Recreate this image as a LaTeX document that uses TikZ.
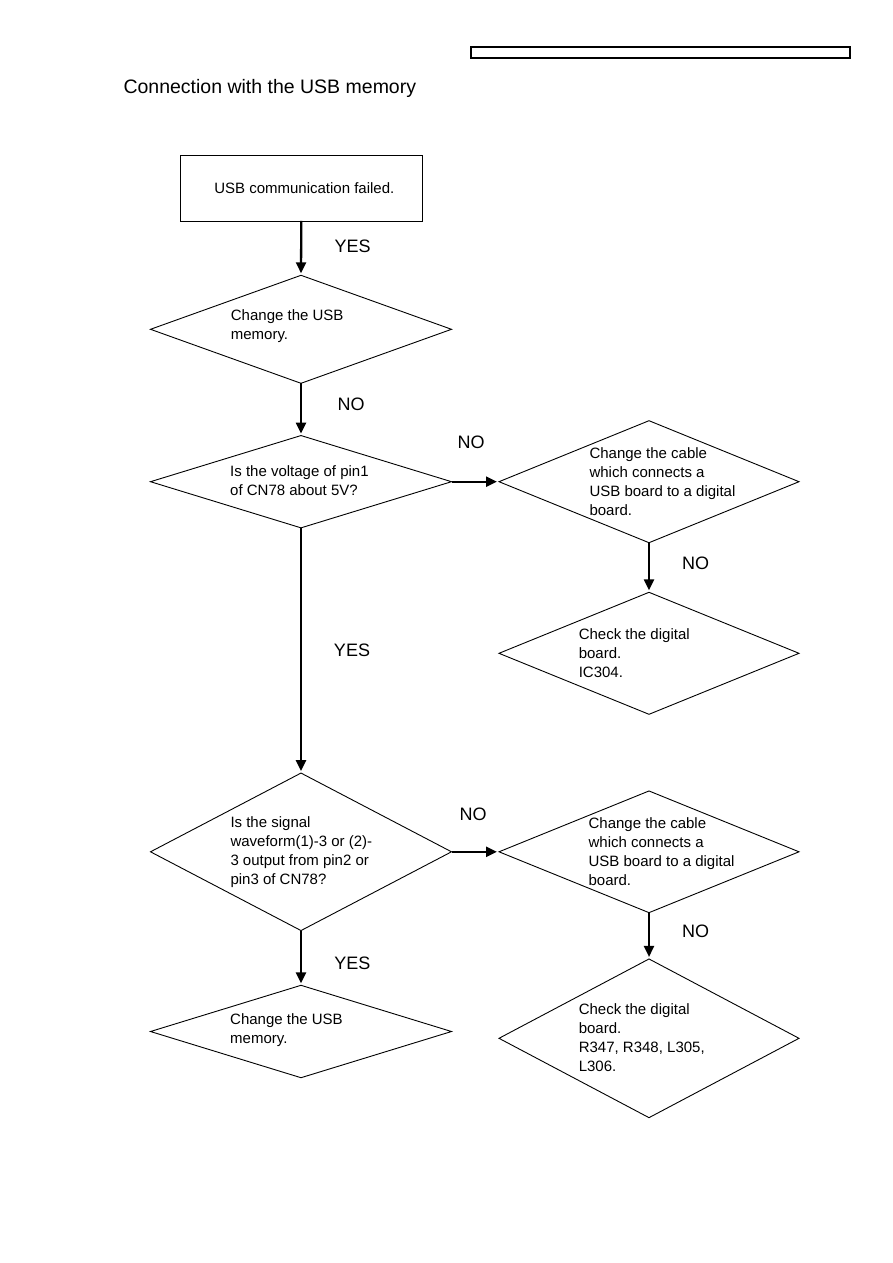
\documentclass[tikz,border=0pt]{standalone}
\usepackage{fontspec}
\setmainfont{Liberation Sans}
\usetikzlibrary{shapes.geometric,arrows.meta}
\begin{document}
\begin{tikzpicture}[x=1pt,y=-1pt,
  dia/.style={draw, diamond, line width=0.9pt, inner sep=0pt, outer sep=0pt},
  procbox/.style={draw, rectangle, line width=0.9pt, inner sep=0pt, outer sep=0pt, font=\fontsize{15}{19}\selectfont},
  txt/.style={anchor=west, align=left, inner sep=0pt, font=\fontsize{15}{19}\selectfont},
  lbl/.style={inner sep=0pt, font=\fontsize{18}{22}\selectfont},
  flow/.style={line width=2.3pt, -{Triangle[length=11pt,width=10pt]}, shorten >=2pt}
]
\useasboundingbox (0,0) rectangle (893,1263);
\node[draw, line width=1.2pt, minimum width=379pt, minimum height=11pt, inner sep=0pt] (hdr) at (660.5,52.5) {};
\node[anchor=west, inner sep=0pt, font=\fontsize{19.5}{23}\selectfont] (title) at (123.3,88.5) {Connection with the USB memory};

% shapes
\node[procbox, minimum width=242.7pt, minimum height=65.3pt] (start) at (301.3,188.3) {\hspace*{6pt}USB communication failed.};
\node[dia, minimum width=301pt, minimum height=108pt] (d1) at (301,329.3) {};
\node[dia, minimum width=301pt, minimum height=92.3pt] (d2) at (301,481.7) {};
\node[dia, minimum width=300pt, minimum height=122pt] (d3) at (649,481.7) {};
\node[dia, minimum width=300pt, minimum height=122pt] (d4) at (649,653.3) {};
\node[dia, minimum width=301pt, minimum height=157.5pt] (d5) at (301,851.8) {};
\node[dia, minimum width=300pt, minimum height=121.7pt] (d6) at (649,851.8) {};
\node[dia, minimum width=300pt, minimum height=158.7pt] (d7) at (649,1038.3) {};
\node[dia, minimum width=301pt, minimum height=92.4pt] (d8) at (301,1031.5) {};

% texts
\node[txt] (t1) at (230.7,325.9) {Change the USB\\memory.};
\node[txt] (t2) at (230,480.5) {Is the voltage of pin1\\of CN78 about 5V?};
\node[txt] (t3) at (589.3,481.3) {Change the cable\\which connects a\\USB board to a digital\\board.};
\node[txt] (t4) at (578.6,653.3) {Check the digital\\board.\\IC304.};
\node[txt] (t5) at (230.3,852.5) {Is the signal\\waveform(1)-3 or (2)-\\3 output from pin2 or\\pin3 of CN78?};
\node[txt] (t6) at (588.4,852) {Change the cable\\which connects a\\USB board to a digital\\board.};
\node[txt] (t7) at (578.6,1037.6) {Check the digital\\board.\\R347, R348, L305,\\L306.};
\node[txt] (t8) at (230,1030.2) {Change the USB\\memory.};

% connectors
\draw[flow] (start.south) -- (d1.north);
\draw[flow] (d1.south) -- (d2.north);
\draw[flow] (d2.east) -- (d3.west);
\draw[flow] (d3.south) -- (d4.north);
\draw[flow] (d2.south) -- (d5.north);
\draw[flow] (d5.east) -- (d6.west);
\draw[flow] (d6.south) -- (d7.north);
\draw[flow] (d5.south) -- (d8.north);

% labels
\node[lbl] (l1) at (352.7,246) {YES};
\node[lbl] (l2) at (351,404.3) {NO};
\node[lbl] (l3) at (471,442.7) {NO};
\node[lbl] (l4) at (695.5,563.3) {NO};
\node[lbl] (l5) at (352,650) {YES};
\node[lbl] (l6) at (473,814) {NO};
\node[lbl] (l7) at (695.5,931) {NO};
\node[lbl] (l8) at (352.3,963.3) {YES};
\end{tikzpicture}
\end{document}
